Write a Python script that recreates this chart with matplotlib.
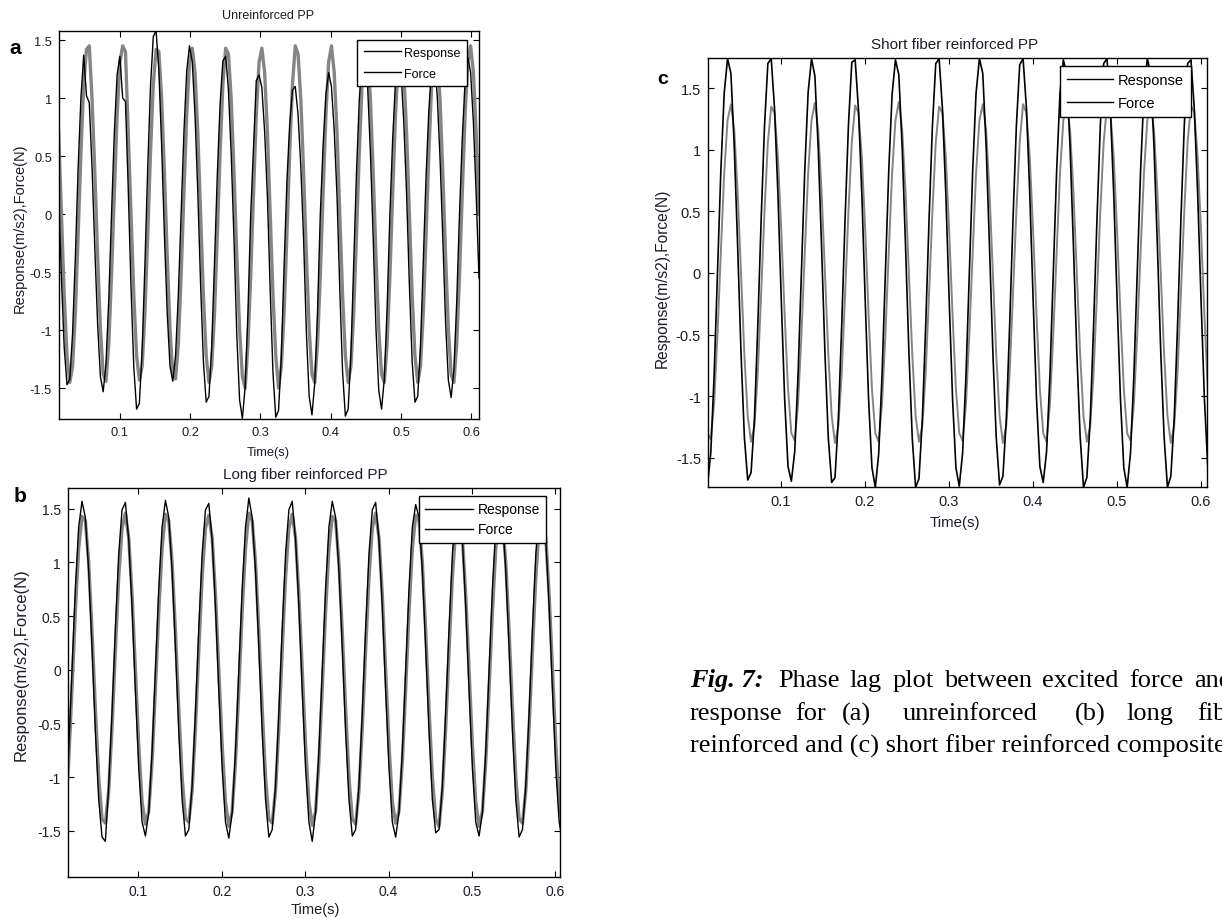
import numpy as np
import matplotlib
matplotlib.use("Agg")
import matplotlib.pyplot as plt

plt.rcParams["font.family"] = ["Liberation Sans", "DejaVu Sans"]
plt.rcParams["axes.unicode_minus"] = False

W, H = 1222, 920

# sampled signals, one value per sample step
dt_a, t0_a = 0.00396, 0.0130
resp_a = [
    0.18, -0.55, -1.15, -1.47, -1.42, -1.03, -0.37, 0.40, 1.00, 1.37, 1.02, 0.96, 0.40, -0.30, -0.95, -1.40, -1.53, -1.29, -0.74, 0.00, 0.70, 1.20, 1.36, 1.00, 0.97,
    0.22, -0.63, -1.32, -1.68, -1.63, -1.17, -0.43, 0.40, 1.10, 1.53, 1.58, 1.24, 0.59, -0.18, -0.85, -1.31, -1.44, -1.22, -0.69, 0.00, 0.70, 1.23, 1.45, 1.31, 0.85,
    0.18, -0.61, -1.27, -1.62, -1.57, -1.13, -0.41, 0.34, 0.95, 1.32, 1.36, 1.07, 0.51, -0.22, -1.04, -1.60, -1.76, -1.49, -0.85, 0.00, 0.58, 1.15, 1.20, 1.09, 0.71,
    0.15, -0.66, -1.37, -1.75, -1.69, -1.22, -0.44, 0.28, 0.77, 1.07, 1.10, 0.86, 0.41, -0.22, -1.02, -1.57, -1.73, -1.46, -0.84, 0.00, 0.59, 1.03, 1.22, 1.10, 0.72,
    0.16, -0.65, -1.36, -1.74, -1.68, -1.21, -0.44, 0.36, 0.98, 1.36, 1.40, 1.10, 0.53, -0.21, -0.99, -1.52, -1.68, -1.42, -0.81, 0.00, 0.65, 1.14, 1.35, 1.22, 0.79,
    0.17, -0.61, -1.27, -1.62, -1.57, -1.13, -0.41, 0.33, 0.90, 1.26, 1.30, 1.02, 0.49, -0.20, -0.93, -1.43, -1.58, -1.34, -0.76, 0.00, 0.65, 1.14, 1.35, 1.22, 0.79,
    0.17, -0.55,
]
force_a = [
    0.70, 0.00, -0.70, -1.22, -1.45, -1.31, -0.85, -0.18, 0.53, 1.12, 1.42, 1.45, 0.99, 0.36, -0.36, -0.99, -1.38, -1.44, -1.12, -0.53, 0.18, 0.85, 1.31, 1.45, 1.40,
    0.70, 0.00, -0.70, -1.22, -1.43, -1.31, -0.85, -0.18, 0.53, 1.12, 1.42, 1.40, 0.99, 0.36, -0.36, -0.99, -1.38, -1.42, -1.12, -0.53, 0.18, 0.85, 1.31, 1.43, 1.22,
    0.70, 0.00, -0.70, -1.22, -1.45, -1.31, -0.85, -0.18, 0.53, 1.12, 1.43, 1.38, 0.99, 0.36, -0.36, -0.99, -1.40, -1.50, -1.12, -0.53, 0.18, 0.85, 1.31, 1.43, 1.22,
    0.70, 0.00, -0.70, -1.22, -1.50, -1.31, -0.85, -0.18, 0.53, 1.12, 1.45, 1.38, 0.99, 0.36, -0.36, -0.99, -1.38, -1.45, -1.12, -0.53, 0.18, 0.85, 1.31, 1.45, 1.22,
    0.70, 0.00, -0.70, -1.22, -1.45, -1.31, -0.85, -0.18, 0.53, 1.12, 1.45, 1.38, 0.99, 0.36, -0.36, -0.99, -1.38, -1.45, -1.12, -0.53, 0.18, 0.85, 1.31, 1.45, 1.22,
    0.70, 0.00, -0.70, -1.22, -1.45, -1.31, -0.85, -0.18, 0.53, 1.12, 1.45, 1.38, 0.99, 0.36, -0.36, -0.99, -1.38, -1.45, -1.12, -0.53, 0.18, 0.85, 1.31, 1.45, 1.22,
    0.70, 0.00,
]

dt_b, t0_b = 0.0040, 0.0125
resp_b = [
    -1.33, -0.76, 0.00, 0.76, 1.33, 1.57, 1.42, 0.92, 0.20, -0.58, -1.21, -1.56, -1.60, -1.08, -0.39, 0.39, 1.08, 1.49, 1.56, 1.21, 0.58, -0.20, -0.92, -1.42, -1.55,
    -1.33, -0.76, 0.00, 0.76, 1.33, 1.58, 1.42, 0.92, 0.20, -0.58, -1.21, -1.55, -1.49, -1.08, -0.39, 0.39, 1.08, 1.49, 1.55, 1.21, 0.58, -0.20, -0.92, -1.42, -1.57,
    -1.33, -0.76, 0.00, 0.76, 1.33, 1.60, 1.42, 0.92, 0.20, -0.58, -1.21, -1.56, -1.49, -1.08, -0.39, 0.39, 1.08, 1.49, 1.57, 1.21, 0.58, -0.20, -0.92, -1.42, -1.60,
    -1.33, -0.76, 0.00, 0.76, 1.33, 1.57, 1.42, 0.92, 0.20, -0.58, -1.21, -1.55, -1.49, -1.08, -0.39, 0.39, 1.08, 1.49, 1.56, 1.21, 0.58, -0.20, -0.92, -1.42, -1.56,
    -1.33, -0.76, 0.00, 0.76, 1.33, 1.54, 1.42, 0.92, 0.20, -0.58, -1.21, -1.52, -1.49, -1.08, -0.39, 0.39, 1.08, 1.49, 1.59, 1.21, 0.58, -0.20, -0.92, -1.42, -1.55,
    -1.33, -0.76, 0.00, 0.76, 1.33, 1.57, 1.42, 0.92, 0.20, -0.58, -1.21, -1.56, -1.49, -1.08, -0.39, 0.39, 1.08, 1.49, 1.57, 1.21, 0.58, -0.20, -0.92, -1.42, -1.60,
]
force_b = [
    -1.32, -0.86, -0.18, 0.54, 1.13, 1.43, 1.39, 1.00, 0.36, -0.36, -1.00, -1.39, -1.43, -1.13, -0.54, 0.18, 0.86, 1.32, 1.46, 1.23, 0.70, 0.00, -0.70, -1.23, -1.44,
    -1.32, -0.86, -0.18, 0.54, 1.13, 1.45, 1.39, 1.00, 0.36, -0.36, -1.00, -1.39, -1.42, -1.13, -0.54, 0.18, 0.86, 1.32, 1.44, 1.23, 0.70, 0.00, -0.70, -1.23, -1.46,
    -1.32, -0.86, -0.18, 0.54, 1.13, 1.46, 1.39, 1.00, 0.36, -0.36, -1.00, -1.39, -1.43, -1.13, -0.54, 0.18, 0.86, 1.32, 1.45, 1.23, 0.70, 0.00, -0.70, -1.23, -1.45,
    -1.32, -0.86, -0.18, 0.54, 1.13, 1.43, 1.39, 1.00, 0.36, -0.36, -1.00, -1.39, -1.44, -1.13, -0.54, 0.18, 0.86, 1.32, 1.46, 1.23, 0.70, 0.00, -0.70, -1.23, -1.43,
    -1.32, -0.86, -0.18, 0.54, 1.13, 1.44, 1.39, 1.00, 0.36, -0.36, -1.00, -1.39, -1.46, -1.13, -0.54, 0.18, 0.86, 1.32, 1.45, 1.23, 0.70, 0.00, -0.70, -1.23, -1.46,
    -1.32, -0.86, -0.18, 0.54, 1.13, 1.45, 1.39, 1.00, 0.36, -0.36, -1.00, -1.39, -1.43, -1.13, -0.54, 0.18, 0.86, 1.32, 1.46, 1.23, 0.70, 0.00, -0.70, -1.23, -1.45,
]

dt_c, t0_c = 0.0040, 0.0123
resp_c = [
    -1.73, -1.46, -0.83, 0.00, 0.83, 1.46, 1.74, 1.62, 1.02, 0.22, -0.64, -1.33, -1.68, -1.62, -1.19, -0.43, 0.43, 1.19, 1.70, 1.74, 1.33, 0.64, -0.22, -1.02, -1.57,
    -1.69, -1.45, -0.82, 0.01, 0.84, 1.47, 1.74, 1.60, 1.01, 0.21, -0.65, -1.34, -1.70, -1.66, -1.18, -0.42, 0.44, 1.20, 1.71, 1.73, 1.32, 0.63, -0.23, -1.03, -1.58,
    -1.74, -1.47, -0.83, 0.00, 0.83, 1.45, 1.73, 1.61, 1.02, 0.22, -0.64, -1.34, -1.74, -1.67, -1.19, -0.43, 0.43, 1.19, 1.70, 1.74, 1.33, 0.64, -0.22, -1.02, -1.58,
    -1.73, -1.46, -0.83, 0.00, 0.83, 1.46, 1.74, 1.62, 1.03, 0.22, -0.64, -1.33, -1.72, -1.65, -1.19, -0.43, 0.43, 1.19, 1.69, 1.74, 1.34, 0.64, -0.22, -1.02, -1.57,
    -1.70, -1.45, -0.83, 0.00, 0.83, 1.46, 1.73, 1.61, 1.02, 0.22, -0.64, -1.33, -1.74, -1.66, -1.19, -0.43, 0.43, 1.19, 1.70, 1.74, 1.33, 0.64, -0.22, -1.02, -1.58,
    -1.74, -1.46, -0.83, 0.00, 0.83, 1.46, 1.74, 1.62, 1.02, 0.22, -0.64, -1.33, -1.74, -1.65, -1.19, -0.43, 0.43, 1.19, 1.70, 1.73, 1.33, 0.64, -0.22, -1.02, -1.57,
]
force_c = [
    -1.30, -1.35, -1.06, -0.50, 0.17, 0.81, 1.24, 1.37, 1.16, 0.66, 0.00, -0.66, -1.16, -1.37, -1.24, -0.81, -0.17, 0.50, 1.06, 1.35, 1.30, 0.94, 0.34, -0.34, -0.94,
    -1.30, -1.36, -1.06, -0.50, 0.17, 0.81, 1.24, 1.38, 1.16, 0.66, 0.00, -0.66, -1.16, -1.38, -1.24, -0.81, -0.17, 0.50, 1.06, 1.36, 1.30, 0.94, 0.34, -0.34, -0.94,
    -1.30, -1.37, -1.06, -0.50, 0.17, 0.81, 1.24, 1.39, 1.16, 0.66, 0.00, -0.66, -1.16, -1.37, -1.24, -0.81, -0.17, 0.50, 1.06, 1.35, 1.30, 0.94, 0.34, -0.34, -0.94,
    -1.30, -1.36, -1.06, -0.50, 0.17, 0.81, 1.24, 1.37, 1.16, 0.66, 0.00, -0.66, -1.16, -1.38, -1.24, -0.81, -0.17, 0.50, 1.06, 1.37, 1.30, 0.94, 0.34, -0.34, -0.94,
    -1.30, -1.37, -1.06, -0.50, 0.17, 0.81, 1.24, 1.38, 1.16, 0.66, 0.00, -0.66, -1.16, -1.37, -1.24, -0.81, -0.17, 0.50, 1.06, 1.36, 1.30, 0.94, 0.34, -0.34, -0.94,
    -1.30, -1.36, -1.06, -0.50, 0.17, 0.81, 1.24, 1.37, 1.16, 0.66, 0.00, -0.66, -1.16, -1.38, -1.24, -0.81, -0.17, 0.50, 1.06, 1.36, 1.30, 0.94, 0.34, -0.34, -0.94,
]

x_ticks = [0.1, 0.2, 0.3, 0.4, 0.5, 0.6]
y_ticks = [-1.5, -1, -0.5, 0, 0.5, 1, 1.5]
y_labels = ["-1.5", "-1", "-0.5", "0", "0.5", "1", "1.5"]

caption_1 = ["Phase", "lag", "plot", "between", "excited", "force", "and"]
caption_2 = ["response", "for", "(a)", "unreinforced", "(b)", "long", "fiber"]
caption_3 = "reinforced and (c) short fiber reinforced composites"

ink = "#1c1c28"


def px_box(left, top, right, bottom):
    return [left / W, 1 - bottom / H, (right - left) / W, (bottom - top) / H]


def ftext(x, y, s, **kw):
    return fig.text(x / W, 1 - y / H, s, **kw)


def panel(box, t0, dt, resp, force, xlim, ylim, fs, title, tpos, tfs, xlpos, xfs,
          ylpos, yfs, leg_pos, leg, force_lw, resp_lw):
    ax = fig.add_axes(px_box(*box))
    t = t0 + dt * np.arange(len(resp))
    ax.plot(t, resp, color="black", lw=resp_lw, label="Response", zorder=3)
    ax.plot(t, force, color="#858585", lw=force_lw, label="Force", zorder=2)
    ax.set_xlim(*xlim)
    ax.set_ylim(*ylim)
    ax.set_xticks(x_ticks)
    ax.set_xticklabels([f"{v:g}" for v in x_ticks])
    ax.set_yticks(y_ticks)
    ax.set_yticklabels(y_labels)
    ax.tick_params(direction="in", top=True, right=True, length=4, width=0.8,
                   labelsize=fs, colors="black", labelcolor=ink, pad=5)
    for s in ax.spines.values():
        s.set_linewidth(1.0)
    ftext(tpos[0], tpos[1], title, ha="center", va="center", fontsize=tfs, color=ink)
    ftext(xlpos[0], xlpos[1], "Time(s)", ha="center", va="center", fontsize=xfs, color=ink)
    ftext(ylpos[0], ylpos[1], "Response(m/s2),Force(N)", ha="center", va="center",
          rotation=90, fontsize=yfs, color=ink)
    lfs, hlen, lsp, bpad = leg
    lg = ax.legend(loc="upper left", bbox_to_anchor=(leg_pos[0] / W, 1 - leg_pos[1] / H),
                   bbox_transform=fig.transFigure, borderaxespad=0, fontsize=lfs,
                   frameon=True, fancybox=False, framealpha=1, edgecolor="black",
                   handlelength=hlen, handletextpad=0.3, borderpad=bpad,
                   labelspacing=lsp)
    lg.get_frame().set_linewidth(1.0)
    for h in lg.legend_handles:
        h.set_color("black")
        h.set_linewidth(1.0)
    return ax


fig = plt.figure(figsize=(W / 100, H / 100), dpi=100)
renderer = fig.canvas.get_renderer()

panel((59, 32, 479, 420), t0_a, dt_a, resp_a, force_a, (0.0135, 0.611), (-1.765, 1.578),
      9.3, "Unreinforced PP", (268, 16), 9.0, (268, 453), 9.3, (20, 228), 10.5,
      (357, 41), (9.0, 2.96, 0.74, 0.52), 2.4, 1.0)
panel((68, 489, 560, 878), t0_b, dt_b, resp_b, force_b, (0.0157, 0.6055), (-1.932, 1.694),
      10.0, "Long fiber reinforced PP", (305, 475), 11.0, (315, 910), 10.5, (21, 665), 12.0,
      (419, 497), (10.0, 3.45, 0.44, 0.46), 2.4, 1.0)
panel((708, 59, 1207, 488), t0_c, dt_c, resp_c, force_c, (0.013, 0.6074), (-1.737, 1.745),
      10.5, "Short fiber reinforced PP", (955, 45), 11.0, (955, 523), 10.8, (662, 278), 11.2,
      (1060, 67), (10.5, 3.15, 0.58, 0.51), 1.4, 1.2)

ftext(15, 48, "a", ha="center", va="center", fontsize=15, fontweight="bold")
ftext(20, 497, "b", ha="center", va="center", fontsize=15, fontweight="bold")
ftext(663, 79, "c", ha="center", va="center", fontsize=14, fontweight="bold")

# caption, justified like the printed page
serif = ["Liberation Serif", "DejaVu Serif"]
cap_fs = 19.0


def justify(words, x_start, x_end, y):
    items = [ftext(0, y, w, ha="left", va="center", fontsize=cap_fs, family=serif)
             for w in words]
    widths = [it.get_window_extent(renderer).width for it in items]
    gap = (x_end - x_start - sum(widths)) / (len(words) - 1)
    x = x_start
    for it, w in zip(items, widths):
        it.set_x(x / W)
        x += w + gap


ftext(690, 681, "Fig. 7:", ha="left", va="center", fontsize=cap_fs, family=serif,
      fontweight="bold", fontstyle="italic")
justify(caption_1, 778, 1232, 681)
for x, word in zip([690, 795, 842, 903, 1075, 1126, 1197], caption_2):
    ftext(x, 714, word, ha="left", va="center", fontsize=cap_fs, family=serif)
ftext(690, 746, caption_3, ha="left", va="center", fontsize=cap_fs, family=serif)

fig.savefig("out.png", dpi=100)
